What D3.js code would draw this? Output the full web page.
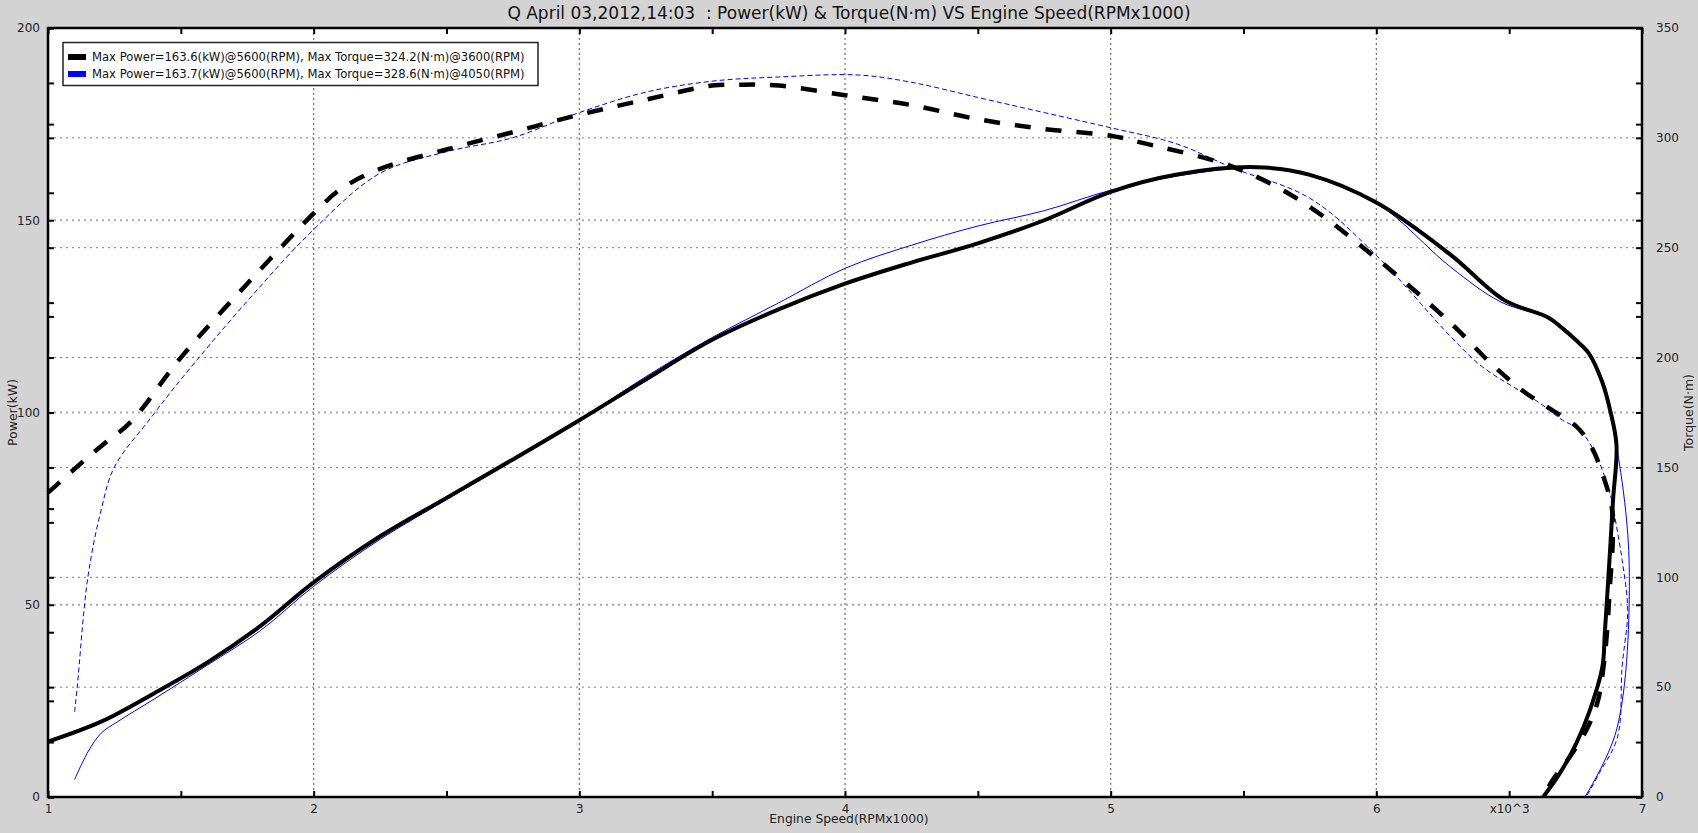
<!DOCTYPE html>
<html>
<head>
<meta charset="utf-8">
<script src="https://cdn.jsdelivr.net/npm/d3@7"></script>
<style>
  html, body { margin: 0; padding: 0; background: rgb(211,211,211); }
  svg { display: block; font-family: "DejaVu Sans", Verdana, sans-serif; }
</style>
</head>
<body>
<svg id="chart" width="1698" height="833"></svg>
<script>
// ---------- data ----------
const titleText = "Q April 03,2012,14:03  : Power(kW) & Torque(N·m) VS Engine Speed(RPMx1000)";
const xLabel = "Engine Speed(RPMx1000)";
const yLeftLabel = "Power(kW)";
const yRightLabel = "Torque(N·m)";
const legendLabels = [
  "Max Power=163.6(kW)@5600(RPM), Max Torque=324.2(N·m)@3600(RPM)",
  "Max Power=163.7(kW)@5600(RPM), Max Torque=328.6(N·m)@4050(RPM)"
];
const seriesColors = ["#000000", "#0000ff"];

const xTicks = [1, 1.5, 2, 2.5, 3, 3.5, 4, 4.5, 5, 5.5, 6, 6.5, 7];
const xTickLabels = {1: "1", 2: "2", 3: "3", 4: "4", 5: "5", 6: "6", 6.5: "x10^3", 7: "7"};
const powerTicks = [0, 25, 50, 75, 100, 125, 150, 175, 200];
const powerLabels = [0, 50, 100, 150, 200];
const torqueTicks = [0, 25, 50, 75, 100, 125, 150, 175, 200, 225, 250, 275, 300, 325, 350];
const torqueLabels = [0, 50, 100, 150, 200, 250, 300, 350];
const xGrid = [2, 3, 4, 5, 6];
const powerGrid = [50, 100, 150];
const torqueGrid = [50, 100, 150, 200, 250, 300];

// run 1 (black)
const blackPowerRpm = [1.0, 1.2, 1.4, 1.6, 1.8, 2.0, 2.25, 2.5, 2.75, 3.0, 3.25, 3.5, 3.75, 4.0, 4.25, 4.5, 4.75, 5.0, 5.25, 5.55, 5.75, 6.0, 6.28, 6.48, 6.65, 6.70, 6.75, 6.80, 6.85, 6.88, 6.904, 6.891, 6.876, 6.86, 6.851, 6.804, 6.753, 6.691, 6.628];
const blackPower    = [14.4, 19.6, 27.0, 35.0, 44.5, 55.8, 67.8, 77.8, 87.8, 98.0, 108.6, 118.9, 126.8, 133.5, 139.0, 144.0, 150.0, 157.4, 161.9, 163.8, 161.8, 154.6, 141.0, 129.3, 124.6, 121.9, 118.9, 115.4, 108.0, 100.6, 91.5, 77.2, 59.9, 42.6, 33.9, 22.6, 14.0, 6.2, 0];
const blackTorqueRpm = [1.0, 1.13, 1.21, 1.31, 1.5, 1.75, 2.0, 2.1, 2.25, 2.5, 2.75, 3.0, 3.25, 3.5, 3.6, 3.75, 4.0, 4.25, 4.5, 4.75, 5.0, 5.12, 5.46, 5.71, 6.0, 6.28, 6.43, 6.55, 6.65, 6.755, 6.81, 6.85, 6.886, 6.89, 6.88, 6.868, 6.855, 6.835, 6.797, 6.728, 6.664, 6.627];
const blackTorque    = [138.5, 152.5, 160.7, 170.5, 200, 233.6, 265.6, 276.5, 285.9, 294.7, 302.6, 310.5, 317.4, 323.8, 324.2, 323.8, 319.4, 314.9, 308.5, 304, 301, 297.7, 286.8, 271.7, 245.2, 215.7, 197.5, 185, 177, 168.4, 159.3, 147.5, 132, 117, 97.4, 74.6, 59.2, 44.2, 32, 18.2, 7.7, 0];

// run 2 (blue)
const bluePowerRpm = [1.1, 1.15, 1.2, 1.26, 1.4, 1.6, 1.8, 2.0, 2.25, 2.5, 2.75, 3.0, 3.25, 3.5, 3.75, 4.0, 4.25, 4.5, 4.75, 5.0, 5.25, 5.55, 5.75, 6.0, 6.28, 6.47, 6.65, 6.75, 6.85, 6.904, 6.952, 6.904, 6.785];
const bluePower    = [4.5, 11.7, 16.6, 19.5, 25.5, 34.3, 43.3, 54.8, 67.0, 77.3, 87.5, 98.0, 109.3, 119.5, 128.5, 137.5, 143.5, 148.5, 152.5, 157.8, 161.5, 163.7, 162.0, 154.6, 137.8, 128.7, 124.5, 119.3, 108.3, 91.5, 59.9, 17.4, 0];
const blueTorqueRpm = [1.1, 1.11, 1.15, 1.2, 1.25, 1.39, 1.5, 1.75, 2.0, 2.25, 2.5, 2.75, 3.0, 3.25, 3.5, 3.75, 4.05, 4.25, 4.5, 4.75, 5.0, 5.25, 5.46, 5.75, 6.0, 6.28, 6.4, 6.615, 6.7, 6.766, 6.83, 6.886, 6.9, 6.925, 6.946, 6.925, 6.908, 6.84, 6.79];
const blueTorque    = [38.7, 50, 100, 130.6, 150.2, 173, 190, 225.7, 258.3, 283.9, 293.7, 300.1, 311.5, 320.8, 325.8, 327.7, 328.6, 325.3, 318.4, 311.5, 304.6, 297.2, 286.3, 272.5, 246.5, 209.5, 195.7, 179.3, 171.6, 167, 154.8, 135.2, 126, 108, 85, 59.2, 27.3, 11, 0];

// ---------- layout ----------
const W = 1698, H = 833;
const plot = {left: 48, right: 1642, top: 28, bottom: 797};

const svg = d3.select("#chart");
const x = d3.scaleLinear().domain([1, 7]).range([plot.left, plot.right]);
const yP = d3.scaleLinear().domain([0, 200]).range([plot.bottom, plot.top]);
const yT = d3.scaleLinear().domain([0, 350]).range([plot.bottom, plot.top]);

svg.append("rect").attr("width", W).attr("height", H).attr("fill", "rgb(211,211,211)");
svg.append("rect")
  .attr("x", plot.left).attr("y", plot.top)
  .attr("width", plot.right - plot.left).attr("height", plot.bottom - plot.top)
  .attr("fill", "#ffffff");

// ---------- grid ----------
const grid = svg.append("g");
grid.selectAll(".vg").data(xGrid).join("line")
  .attr("x1", d => x(d)).attr("x2", d => x(d))
  .attr("y1", plot.top).attr("y2", plot.bottom)
  .attr("stroke", "#707070").attr("stroke-width", 1.2).attr("stroke-dasharray", "2,3");
grid.selectAll(".pg").data(powerGrid).join("line")
  .attr("x1", plot.left).attr("x2", plot.right)
  .attr("y1", d => yP(d)).attr("y2", d => yP(d))
  .attr("stroke", "#aaaaaa").attr("stroke-width", 1.8).attr("stroke-dasharray", "2,4");
grid.selectAll(".tg").data(torqueGrid).join("line")
  .attr("x1", plot.left).attr("x2", plot.right)
  .attr("y1", d => yT(d)).attr("y2", d => yT(d))
  .attr("stroke", "#808080").attr("stroke-width", 1).attr("stroke-dasharray", "2,4");

// ---------- curves ----------
const zip = (a, b) => a.map((r, i) => ({rpm: r, v: b[i]}));
const curve = d3.curveCatmullRom.alpha(0.5);
const lineP = d3.line().x(d => x(d.rpm)).y(d => yP(d.v)).curve(curve);
const lineT = d3.line().x(d => x(d.rpm)).y(d => yT(d.v)).curve(curve);

const curves = svg.append("g").attr("fill", "none");
curves.append("path").attr("d", lineT(zip(blueTorqueRpm, blueTorque)))
  .attr("stroke", seriesColors[1]).attr("stroke-width", 1).attr("stroke-dasharray", "5,3");
curves.append("path").attr("d", lineP(zip(bluePowerRpm, bluePower)))
  .attr("stroke", seriesColors[1]).attr("stroke-width", 1);
curves.append("path").attr("d", lineT(zip(blackTorqueRpm, blackTorque)))
  .attr("stroke", seriesColors[0]).attr("stroke-width", 4.5).attr("stroke-dasharray", "16,15");
curves.append("path").attr("d", lineP(zip(blackPowerRpm, blackPower)))
  .attr("stroke", seriesColors[0]).attr("stroke-width", 4);

// ---------- axes ----------
const tickStyle = g => {
  g.select(".domain").remove();
  g.attr("font-family", null);
  g.selectAll(".tick line").attr("stroke", "#000").attr("stroke-width", 2);
  g.selectAll(".tick text").attr("fill", "#222").attr("font-size", 12);
};
const fmtX = d => xTickLabels[d] !== undefined ? xTickLabels[d] : "";
const fmtP = d => powerLabels.includes(d) ? String(d) : "";
const fmtT = d => torqueLabels.includes(d) ? String(d) : "";

svg.append("g").attr("transform", `translate(0,${plot.bottom})`)
  .call(d3.axisBottom(x).tickValues(xTicks).tickSize(-6).tickPadding(7).tickFormat(fmtX))
  .call(tickStyle);
svg.append("g").attr("transform", `translate(0,${plot.top})`)
  .call(d3.axisTop(x).tickValues(xTicks).tickSize(-6).tickFormat(""))
  .call(tickStyle);

svg.append("g").attr("transform", `translate(${plot.left},0)`)
  .call(d3.axisLeft(yP).tickValues(powerTicks).tickSize(-6).tickPadding(8).tickFormat(fmtP))
  .call(tickStyle);
svg.append("g").attr("transform", `translate(${plot.left},0)`)
  .call(d3.axisLeft(yT).tickValues(torqueTicks).tickSize(-6).tickFormat(""))
  .call(tickStyle);

svg.append("g").attr("transform", `translate(${plot.right},0)`)
  .call(d3.axisRight(yT).tickValues(torqueTicks).tickSize(-6).tickPadding(14).tickFormat(fmtT))
  .call(tickStyle);
svg.append("g").attr("transform", `translate(${plot.right},0)`)
  .call(d3.axisRight(yP).tickValues(powerTicks).tickSize(-6).tickFormat(""))
  .call(tickStyle);

// frame
svg.append("rect")
  .attr("x", plot.left).attr("y", plot.top)
  .attr("width", plot.right - plot.left).attr("height", plot.bottom - plot.top)
  .attr("fill", "none").attr("stroke", "#000").attr("stroke-width", 2.5);

// ---------- titles ----------
svg.append("text").attr("x", 849).attr("y", 13)
  .attr("text-anchor", "middle").attr("dominant-baseline", "central")
  .attr("font-size", 17).attr("fill", "#111").style("white-space", "pre")
  .text(titleText);
svg.append("text").attr("x", 849).attr("y", 819)
  .attr("text-anchor", "middle").attr("dominant-baseline", "central")
  .attr("font-size", 12.3).attr("fill", "#222").text(xLabel);
svg.append("text").attr("transform", `translate(12,${(plot.top + plot.bottom) / 2}) rotate(-90)`)
  .attr("text-anchor", "middle").attr("dominant-baseline", "central")
  .attr("font-size", 12.5).attr("fill", "#222").text(yLeftLabel);
svg.append("text").attr("transform", `translate(1688,${(plot.top + plot.bottom) / 2}) rotate(-90)`)
  .attr("text-anchor", "middle").attr("dominant-baseline", "central")
  .attr("font-size", 12.5).attr("fill", "#222").text(yRightLabel);

// ---------- legend ----------
const lg = svg.append("g");
lg.append("rect").attr("x", 63).attr("y", 42.5).attr("width", 475).attr("height", 43)
  .attr("fill", "#fff").attr("stroke", "#222").attr("stroke-width", 1.5);
const rows = lg.selectAll(".row").data(legendLabels).join("g")
  .attr("transform", (d, i) => `translate(68,${57 + i * 17})`);
rows.append("rect").attr("x", 0).attr("y", -3).attr("width", 18).attr("height", 6)
  .attr("fill", (d, i) => seriesColors[i]);
rows.append("text").attr("x", 24).attr("y", 0).attr("dominant-baseline", "central")
  .attr("font-size", 11.6).attr("fill", "#111").text(d => d);
</script>
</body>
</html>
